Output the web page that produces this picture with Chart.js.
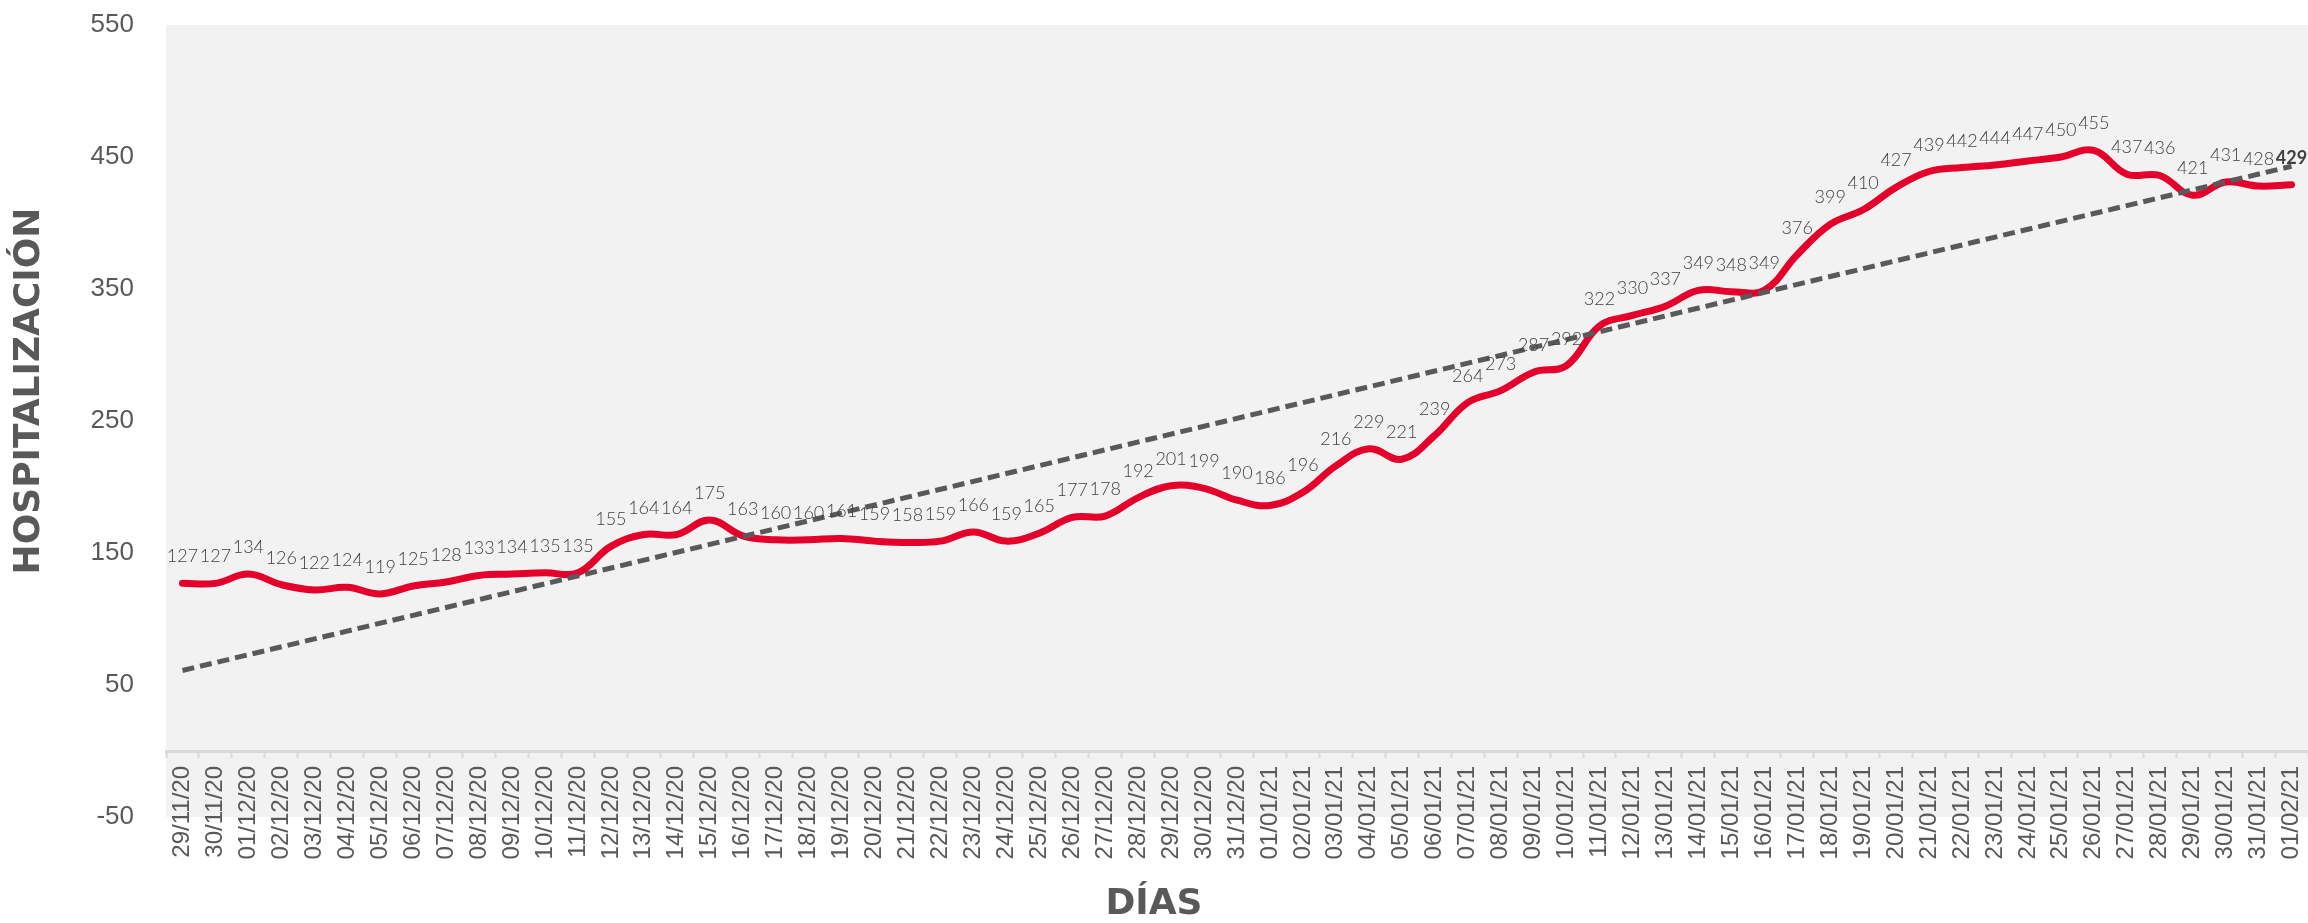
<!DOCTYPE html>
<html>
<head>
<meta charset="utf-8">
<script src="https://cdn.jsdelivr.net/npm/chart.js@4.4.0/dist/chart.umd.min.js"></script>
<style>
  html, body { margin: 0; padding: 0; background: #fff; }
</style>
</head>
<body>
<canvas id="hosp-chart" width="2308" height="923"></canvas>
<script>
// Días (eje X)
const days = [
  '29/11/20', '30/11/20', '01/12/20', '02/12/20', '03/12/20', '04/12/20', '05/12/20', '06/12/20',
  '07/12/20', '08/12/20', '09/12/20', '10/12/20', '11/12/20', '12/12/20', '13/12/20', '14/12/20',
  '15/12/20', '16/12/20', '17/12/20', '18/12/20', '19/12/20', '20/12/20', '21/12/20', '22/12/20',
  '23/12/20', '24/12/20', '25/12/20', '26/12/20', '27/12/20', '28/12/20', '29/12/20', '30/12/20',
  '31/12/20', '01/01/21', '02/01/21', '03/01/21', '04/01/21', '05/01/21', '06/01/21', '07/01/21',
  '08/01/21', '09/01/21', '10/01/21', '11/01/21', '12/01/21', '13/01/21', '14/01/21', '15/01/21',
  '16/01/21', '17/01/21', '18/01/21', '19/01/21', '20/01/21', '21/01/21', '22/01/21', '23/01/21',
  '24/01/21', '25/01/21', '26/01/21', '27/01/21', '28/01/21', '29/01/21', '30/01/21', '31/01/21',
  '01/02/21'
];

// Pacientes hospitalizados
const hospitalizados = [
  127, 127, 134, 126, 122, 124, 119, 125,
  128, 133, 134, 135, 135, 155, 164, 164,
  175, 163, 160, 160, 161, 159, 158, 159,
  166, 159, 165, 177, 178, 192, 201, 199,
  190, 186, 196, 216, 229, 221, 239, 264,
  273, 287, 292, 322, 330, 337, 349, 348,
  349, 376, 399, 410, 427, 439, 442, 444,
  447, 450, 455, 437, 436, 421, 431, 428,
  429
];

// Línea de tendencia (extremos)
const trendStart = 61;
const trendEnd = 443;

// Eje Y
const yMin = -50;
const yMax = 550;
const yStep = 100;

const RED = '#e4002b';
const GREY_TEXT = '#595959';

// fondo gris del área de trazado
const plotBg = {
  id: 'plotBg',
  beforeDraw(chart) {
    const { ctx, chartArea: a } = chart;
    ctx.save();
    ctx.fillStyle = '#f2f2f2';
    ctx.fillRect(a.left, a.top, chart.width - a.left, a.bottom - a.top);
    ctx.restore();
  }
};

// etiquetas de valor encima de cada punto
const valueLabels = {
  id: 'valueLabels',
  afterDatasetsDraw(chart) {
    const meta = chart.getDatasetMeta(1);
    const ctx = chart.ctx;
    ctx.save();
    ctx.textAlign = 'center';
    ctx.textBaseline = 'alphabetic';
    ctx.fillStyle = '#404040';
    meta.data.forEach((pt, i) => {
      const last = i === meta.data.length - 1;
      ctx.font = (last ? 'bold ' : '300 ') + '18px Lato';
      ctx.fillText(String(hospitalizados[i]), pt.x, pt.y - 21);
    });
    ctx.restore();
  }
};

const ctx = document.getElementById('hosp-chart').getContext('2d');
new Chart(ctx, {
  type: 'line',
  data: {
    labels: days,
    datasets: [
      {
        label: 'Tendencia',
        data: [
          { x: days[0], y: trendStart },
          { x: days[days.length - 1], y: trendEnd }
        ],
        borderColor: GREY_TEXT,
        borderWidth: 5,
        borderDash: [12, 6],
        borderCapStyle: 'butt',
        pointRadius: 0,
        tension: 0,
        fill: false,
        order: 0
      },
      {
        label: 'Hospitalización',
        data: hospitalizados,
        borderColor: RED,
        borderWidth: 7,
        borderCapStyle: 'round',
        borderJoinStyle: 'round',
        pointRadius: 0,
        tension: 0.4,
        fill: false,
        order: 1
      }
    ]
  },
  options: {
    responsive: false,
    animation: false,
    layout: { padding: { top: 25, right: 0, bottom: 0, left: 0 } },
    plugins: {
      legend: { display: false },
      tooltip: { enabled: false },
      title: {
        // the x axis sits at y = 0 and takes no layout room, so the
        // title box padding keeps the plot bottom at -50
        display: true,
        position: 'bottom',
        text: 'DÍAS',
        color: GREY_TEXT,
        font: { family: 'DejaVu Sans', size: 36, weight: 'bold', lineHeight: 1 },
        padding: { top: 70, bottom: 0 }
      }
    },
    scales: {
      x: {
        type: 'category',
        position: { y: 0 },
        offset: true,
        grid: {
          display: true,
          drawOnChartArea: false,
          drawTicks: true,
          tickLength: 5,
          tickWidth: 2,
          tickColor: '#d9d9d9',
          offset: true
        },
        border: { display: true, color: '#d9d9d9', width: 3 },
        ticks: {
          autoSkip: false,
          minRotation: 90,
          maxRotation: 90,
          padding: 10,
          color: GREY_TEXT,
          font: { family: 'Liberation Sans', size: 24 }
        },
        afterFit(scale) {
          scale.paddingLeft = 0;
          scale.paddingRight = 0;
        }
      },
      y: {
        min: yMin,
        max: yMax,
        grid: { display: false },
        border: { display: false },
        ticks: {
          stepSize: yStep,
          padding: 24,
          color: GREY_TEXT,
          font: { family: 'Liberation Sans', size: 26 }
        },
        title: {
          display: true,
          text: 'HOSPITALIZACIÓN',
          color: GREY_TEXT,
          font: { family: 'DejaVu Sans', size: 36, weight: 'bold' },
          padding: { top: 8, bottom: 0 }
        },
        afterFit(scale) {
          scale.width = 166;
          scale.paddingTop = 0;
          scale.paddingBottom = 0;
          // title sits a bit above the middle of the plot in the original
          if (!scale._titleShifted) {
            const drawTitle = scale.drawTitle;
            scale.drawTitle = function () {
              this.ctx.save();
              this.ctx.translate(0, -30);
              drawTitle.call(this);
              this.ctx.restore();
            };
            scale._titleShifted = true;
          }
        }
      }
    }
  },
  plugins: [plotBg, valueLabels]
});
</script>
</body>
</html>
